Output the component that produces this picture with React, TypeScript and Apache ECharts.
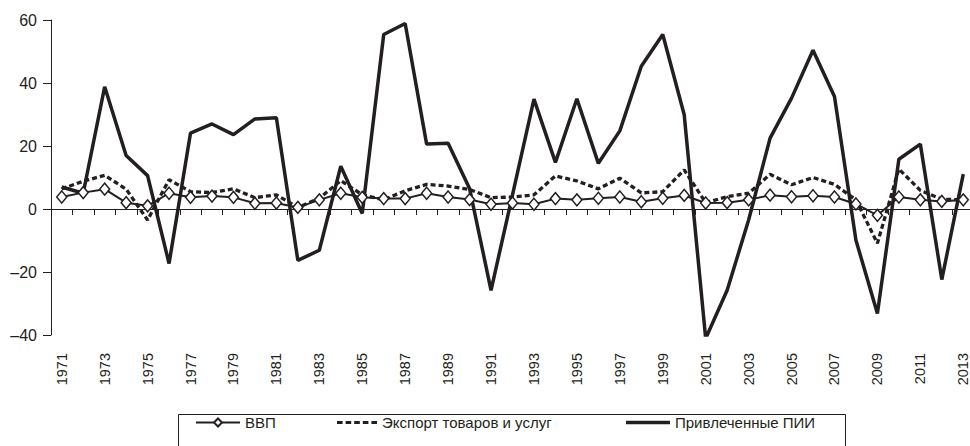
import React, { useEffect, useRef } from "react";
import * as echarts from "echarts";

const years = Array.from({ length: 43 }, (_, i) => String(1971 + i));

const gdp = [
  3.8, 5.2, 6.3, 2.0, 1.0, 5.0, 3.7, 4.1, 3.7, 1.8, 1.9, 0.5, 2.9, 5.0, 3.7,
  3.3, 3.3, 5.0, 3.8, 3.0, 1.5, 1.9, 1.5, 3.3, 2.9, 3.4, 3.8, 2.3, 3.4, 4.3,
  1.9, 2.0, 2.9, 4.4, 3.9, 4.2, 3.8, 1.6, -2.0, 3.8, 2.9, 2.4, 2.9,
];

const exportsGS = [
  6.4, 8.8, 10.7, 6.3, -3.5, 9.3, 5.5, 5.2, 6.4, 3.6, 4.5, 0.5, 3.4, 9.0, 4.5,
  2.9, 5.8, 7.8, 7.3, 6.2, 3.6, 3.8, 4.5, 10.5, 8.9, 6.4, 9.8, 5.1, 5.5, 12.4,
  2.0, 3.9, 5.0, 11.0, 7.7, 10.0, 7.8, 2.9, -10.9, 12.7, 5.9, 3.1, 2.9,
];

const fdi = [
  7.0, 5.0, 38.8, 17.0, 10.6, -17.3, 24.1, 27.0, 23.6, 28.6, 29.0, -16.3,
  -13.1, 13.6, -1.4, 55.4, 58.9, 20.6, 20.9, 6.5, -25.8, 4.5, 34.9, 14.8, 35.0,
  14.5, 24.8, 45.3, 55.4, 29.9, -41.1, -25.8, -3.5, 22.5, 35.2, 50.4, 35.7,
  -9.9, -33.2, 15.8, 20.6, -22.4, 11.1,
];

const names = ["ВВП", "Экспорт товаров и услуг", "Привлеченные ПИИ"];

const INK = "#231f20";
const FONT = "'Liberation Sans', Arial, sans-serif";

const DASH_ICON =
  "path://M0,0h5.6v3h-5.6zM8.6,0h5.6v3h-5.6zM17.2,0h5.6v3h-5.6zM25.8,0h5.6v3h-5.6zM34.4,0h5.6v3h-5.6z";

export default function App() {
  const ref = useRef<HTMLDivElement>(null);
  useEffect(() => {
    if (!ref.current) return;
    const chart = echarts.init(ref.current, undefined, { renderer: "svg" });
    const legendText = { color: INK, fontSize: 15, fontFamily: FONT };
    chart.setOption({
      animation: false,
      backgroundColor: "#ffffff",
      grid: { left: 51, right: 0, top: 20, bottom: 111, containLabel: false },
      xAxis: [
        {
          type: "category",
          data: years,
          boundaryGap: true,
          axisLine: { show: true, onZero: true, lineStyle: { color: INK, width: 1 } },
          axisTick: { show: true, interval: 0, length: 6, lineStyle: { color: INK, width: 1 } },
          axisLabel: { show: false },
          splitLine: { show: false },
        },
        {
          type: "category",
          data: years,
          position: "bottom",
          boundaryGap: true,
          axisLine: { show: false, onZero: false },
          axisTick: { show: false },
          axisLabel: {
            show: true,
            interval: 1,
            rotate: 90,
            margin: 18,
            color: INK,
            fontSize: 14.5,
            lineHeight: 12,
            fontFamily: FONT,
          },
          splitLine: { show: false },
        },
      ],
      yAxis: {
        type: "value",
        min: -40,
        max: 60,
        interval: 20,
        axisLine: { show: true, lineStyle: { color: INK, width: 1 } },
        axisTick: { show: true, length: 8, lineStyle: { color: INK, width: 1 } },
        axisLabel: {
          color: INK,
          fontSize: 16,
          fontFamily: FONT,
          margin: 14,
          formatter: (v: number) => (v < 0 ? "\u2013" + Math.abs(v) : String(v)),
        },
        splitLine: { show: false },
      },
      legend: [
        {
          data: [names[0]],
          left: 195,
          top: 415,
          padding: 0,
          itemWidth: 44,
          itemHeight: 10,
          textStyle: legendText,
        },
        {
          data: [{ name: names[1], icon: DASH_ICON }],
          left: 337,
          top: 415,
          padding: 0,
          itemWidth: 40,
          itemHeight: 3,
          itemStyle: { color: INK, borderWidth: 0 },
          textStyle: legendText,
        },
        {
          data: [{ name: names[2], icon: "rect" }],
          left: 626,
          top: 415,
          padding: 0,
          itemWidth: 44,
          itemHeight: 3.5,
          itemStyle: { color: INK, borderWidth: 0 },
          textStyle: legendText,
        },
      ],
      graphic: [
        {
          type: "rect",
          left: 176,
          top: 412,
          shape: { width: 667, height: 60 },
          style: { fill: "none", stroke: INK, lineWidth: 1 },
          silent: true,
        },
      ],
      series: [
        {
          name: names[1],
          type: "line",
          data: exportsGS,
          xAxisIndex: 0,
          symbol: "none",
          z: 2,
          lineStyle: { color: INK, width: 3.3, type: [5, 3] },
          itemStyle: { color: INK },
        },
        {
          name: names[2],
          type: "line",
          data: fdi,
          xAxisIndex: 0,
          symbol: "none",
          z: 3,
          lineStyle: { color: INK, width: 3.5 },
          itemStyle: { color: INK },
        },
        {
          name: names[0],
          type: "line",
          data: gdp,
          xAxisIndex: 0,
          symbol: "diamond",
          symbolSize: [10, 12],
          z: 4,
          lineStyle: { color: INK, width: 2 },
          itemStyle: { color: "#ffffff", borderColor: INK, borderWidth: 1.5 },
        },
      ],
    });
    return () => chart.dispose();
  }, []);
  return (
    <div
      style={{
        position: "absolute",
        left: 0,
        top: 0,
        width: 970,
        height: 446,
        overflow: "hidden",
      }}
    >
      <div ref={ref} style={{ width: 974, height: 446 }} />
    </div>
  );
}
